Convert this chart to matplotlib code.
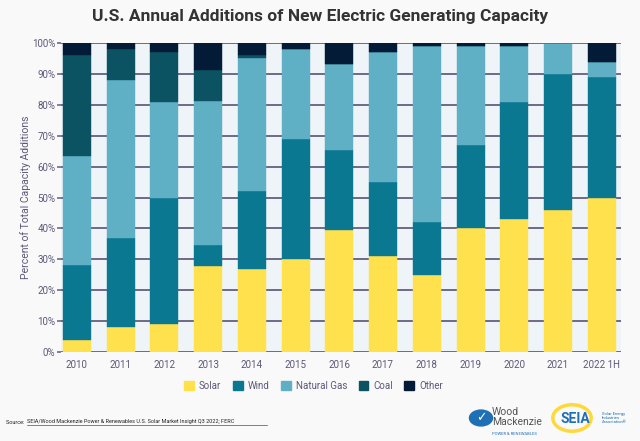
import numpy as np
import matplotlib.pyplot as plt
from matplotlib.patches import Patch, Circle

plt.rcParams['font.family'] = ['Roboto', 'DejaVu Sans']

years = ['2010', '2011', '2012', '2013', '2014', '2015', '2016',
         '2017', '2018', '2019', '2020', '2021', '2022 1H']
solar = [4, 8, 9, 27.7, 27, 30, 39.6, 31, 25, 40, 43, 46, 50]
wind = [24, 29, 41, 7, 25, 39, 25.7, 24, 17, 27, 38, 44, 39]
gas = [35.5, 51, 31, 46.6, 43, 29, 27.8, 42, 57, 32, 18, 10, 5]
coal = [32.5, 10, 16, 10, 1, 0, 0, 0, 0, 0, 0, 0, 0]
other = [4, 2, 3, 8.7, 4, 2, 6.9, 3, 1, 1, 1, 0, 6]

series = [('Solar', solar, '#FFE14D'),
          ('Wind', wind, '#0B7891'),
          ('Natural Gas', gas, '#5FB0C4'),
          ('Coal', coal, '#0B5263'),
          ('Other', other, '#031B37')]

fig = plt.figure(figsize=(6.4, 4.41), dpi=100)
fig.patch.set_facecolor('#F9F9F9')
ax = fig.add_axes([61 / 640, 1 - 352 / 441, 560 / 640, 309 / 441])
ax.set_facecolor('#EEF4F8')

x = np.arange(len(years))
bottom = np.zeros(len(years))
for name, vals, col in series:
    vals = np.array(vals, dtype=float)
    ax.bar(x, vals, 0.64, bottom=bottom, color=col, label=name,
           edgecolor=col, linewidth=0.3, zorder=3)
    bottom += vals

ax.set_xlim(-0.36, 12.44)
ax.set_ylim(0, 100)
ax.set_yticks(np.arange(0, 101, 10))
ax.set_yticklabels([f'{v}%' for v in range(0, 101, 10)])
ax.set_xticks(x)
ax.set_xticklabels(years)
ax.grid(axis='y', color='#6E6A85', linewidth=1.4, zorder=1)
for s in ax.spines.values():
    s.set_visible(False)
ax.tick_params(axis='y', colors='#6E6A85', labelcolor='#5B5878', labelsize=7,
               length=3, width=1.2, pad=1)
ax.tick_params(axis='x', length=0, labelcolor='#5B5878', labelsize=7, pad=6)
ax.set_ylabel('Percent of Total Capacity Additions', color='#5B5878', fontsize=7.5,
              labelpad=1)

fig.text(0.5, 0.962, 'U.S. Annual Additions of New Electric Generating Capacity',
         ha='center', va='center', fontsize=12.5, fontweight='bold', color='#333333')

handles = [Patch(facecolor=c, edgecolor=c) for _, _, c in series]
fig.legend(handles, [n for n, _, _ in series], loc='center',
           bbox_to_anchor=(0.49, 1 - 386 / 441), ncol=5, frameon=False,
           fontsize=7, handlelength=1.0, handleheight=1.0, columnspacing=1.2,
           handletextpad=0.5, labelcolor='#5B5878')

fig.text(6 / 640, 1 - 422 / 441, 'Source: ', fontsize=4, color='#222222', va='center')
fig.text(27 / 640, 1 - 422 / 441,
         'SEIA/Wood Mackenzie Power & Renewables U.S. Solar Market Insight Q3 2022; FERC',
         fontsize=4, color='#222222', va='center')
fig.add_artist(plt.Line2D([27 / 640, 267 / 640], [1 - 425 / 441] * 2,
                          color='#222222', linewidth=0.4))

# logos (approximation)
fig.add_artist(Circle((481 / 640, 1 - 418 / 441), 0.018, transform=fig.transFigure,
                      color='#1F6FB5'))
fig.text(481 / 640, 1 - 418 / 441, '✓', fontsize=9, color='white', ha='center',
         va='center', family=['DejaVu Sans'])
fig.text(492 / 640, 1 - 417 / 441, 'Wood\nMackenzie', fontsize=7.5, color='#555555',
         va='center', linespacing=0.9)
fig.text(492 / 640, 1 - 434 / 441, 'POWER & RENEWABLES', fontsize=3, color='#1F6FB5',
         va='center')
fig.add_artist(Circle((572 / 640, 1 - 418 / 441), 0.03, transform=fig.transFigure,
                      facecolor='none', edgecolor='#FFD83A', linewidth=2.5))
fig.text(575 / 640, 1 - 419 / 441, 'SEIA', fontsize=10, fontweight='bold',
         color='#1F6FB5', ha='center', va='center')
fig.text(602 / 640, 1 - 418 / 441, 'Solar Energy\nIndustries\nAssociation®',
         fontsize=3, color='#1F6FB5', va='center', linespacing=1.0)

fig.savefig('out.png', dpi=100, facecolor=fig.get_facecolor())
